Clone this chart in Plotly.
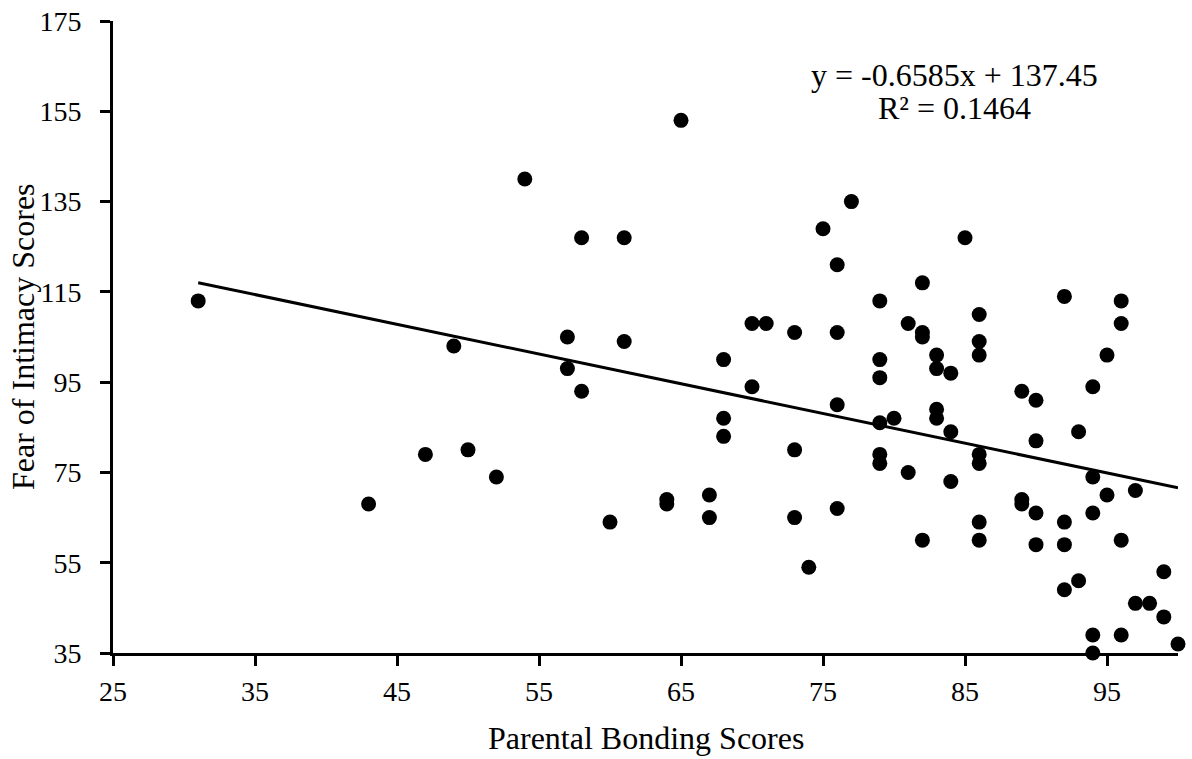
import plotly.graph_objects as go
import numpy as np

# Data
bonding = [31, 43, 47, 49, 50, 52, 54, 57, 57, 58, 58, 60, 61, 61, 64, 64, 65, 67, 67,
           68, 68, 68, 70, 70, 71, 73, 73, 73, 74, 75, 76, 76, 76, 76, 77,
           79, 79, 79, 79, 79, 79, 80, 81, 81, 82, 82, 82, 82, 83, 83, 83, 83,
           84, 84, 84, 85, 86, 86, 86, 86, 86, 86, 86, 89, 89, 89, 90, 90, 90, 90,
           92, 92, 92, 92, 93, 93, 94, 94, 94, 94, 94, 95, 95, 96, 96, 96, 96,
           97, 97, 98, 99, 99, 100]
intimacy = [113, 68, 79, 103, 80, 74, 140, 105, 98, 127, 93, 64, 127, 104, 69, 68, 153, 70, 65,
            100, 87, 83, 108, 94, 108, 106, 80, 65, 54, 129, 121, 106, 90, 67, 135,
            113, 100, 96, 86, 79, 77, 87, 108, 75, 117, 106, 105, 60, 101, 98, 89, 87,
            97, 84, 73, 127, 110, 104, 101, 79, 77, 64, 60, 93, 69, 68, 91, 82, 66, 59,
            114, 64, 59, 49, 84, 51, 94, 74, 66, 39, 35, 101, 70, 113, 108, 60, 39,
            71, 46, 46, 53, 43, 37]

slope = -0.6585
intercept = 137.45
r_squared = 0.1464

x_ticks = [25, 35, 45, 55, 65, 75, 85, 95]
y_ticks = [35, 55, 75, 95, 115, 135, 155, 175]

x_title = "Parental Bonding Scores"
y_title = "Fear of Intimacy Scores"

font_family = "Liberation Serif, Times New Roman, serif"

fig = go.Figure()
fig.add_trace(go.Scatter(
    x=bonding, y=intimacy, mode="markers",
    marker=dict(size=15, color="black"),
    showlegend=False, hoverinfo="x+y", cliponaxis=False))

x_line = np.array([min(bonding), max(bonding)])
fig.add_trace(go.Scatter(
    x=x_line, y=slope * x_line + intercept, mode="lines",
    line=dict(color="black", width=3),
    showlegend=False, hoverinfo="skip"))

ann_font = dict(family=font_family, size=32, color="black")
fig.add_annotation(
    x=0.7906, y=0.9146, xref="paper", yref="paper",
    text=f"y = {slope}x + {intercept}",
    showarrow=False, xanchor="center", yanchor="middle", font=ann_font)
fig.add_annotation(
    x=0.7906, y=0.8623, xref="paper", yref="paper",
    text=f"R² = {r_squared}",
    showarrow=False, xanchor="center", yanchor="middle", font=ann_font)

# axis titles
fig.add_annotation(
    x=0.5, y=-0.1345, xref="paper", yref="paper", text=x_title,
    showarrow=False, xanchor="center", yanchor="middle", font=ann_font)
fig.add_annotation(
    x=-0.0845, y=0.5, xref="paper", yref="paper", text=y_title, textangle=-90,
    showarrow=False, xanchor="center", yanchor="middle", font=ann_font)

axis_common = dict(
    showgrid=False, zeroline=False, showline=True, linecolor="black", linewidth=3,
    ticks="outside", ticklen=10, tickwidth=3, tickcolor="black",
    tickfont=dict(family=font_family, size=28, color="black"),
    automargin=False, ticklabeloverflow="allow",
)

fig.update_layout(
    width=1192, height=759,
    margin=dict(l=113, r=14, t=21, b=106),
    paper_bgcolor="white", plot_bgcolor="white",
    xaxis=dict(range=[25, 100], tickvals=x_ticks, ticklabelstandoff=1, **axis_common),
    yaxis=dict(range=[35, 175.01], tickvals=y_ticks, ticklabelstandoff=13, **axis_common),
)

fig.write_html("out.html", config={"displayModeBar": False},
               post_script="document.body.style.margin='0px';")
